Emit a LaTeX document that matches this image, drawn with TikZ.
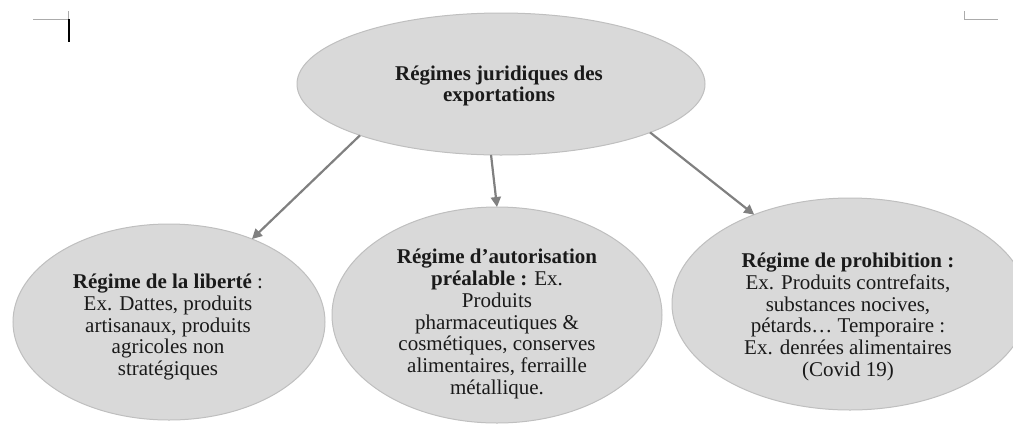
\documentclass[tikz,border=0pt]{standalone}
\usepackage{fontspec}
\setmainfont{Liberation Serif}
\usetikzlibrary{shapes.geometric,arrows.meta}
\definecolor{ellfill}{HTML}{D9D9D9}
\definecolor{elldraw}{HTML}{BFBFBF}
\definecolor{arrowgray}{HTML}{808080}
\definecolor{markgray}{HTML}{ABABAB}
\definecolor{txt}{HTML}{1A1A1A}
\tikzset{
  bubble/.style={ellipse, fill=ellfill, draw=elldraw, line width=1pt, inner sep=0pt, outer sep=0pt},
  bubbletext/.style={align=center, text=txt, inner sep=0pt, font=\fontsize{21}{21.7}\selectfont},
  link/.style={draw=arrowgray, line width=2.2pt, -{Triangle[width=10pt,length=10pt]}},
  cornermark/.style={draw=markgray, line width=0.9pt},
}
\begin{document}
\begin{tikzpicture}[x=1pt,y=-1pt]
\useasboundingbox (0,0) rectangle (1013,424);
% page corner marks and cursor
\draw[cornermark] (33,19) -- (68,19) -- (68,11);
\draw[black, line width=1.3pt] (69,19) -- (69,42);
\draw[cornermark] (964,11) -- (964,19) -- (998,19);
% ellipses
\node[bubble, minimum width=408pt, minimum height=142pt] (top) at (501,84) {};
\node[bubble, minimum width=312pt, minimum height=196pt] (lib) at (169,322) {};
\node[bubble, minimum width=330pt, minimum height=216pt] (aut) at (497,315) {};
\node[bubble, minimum width=356pt, minimum height=212pt] (pro) at (850,304) {};
% texts
\node[bubbletext] (toptxt) at (499,86) {\textbf{Régimes juridiques des}\\\textbf{exportations}};
\node[bubbletext] (libtxt) at (168,327) {\textbf{Régime de la liberté} :\\Ex. Dattes, produits\\artisanaux, produits\\agricoles non\\stratégiques};
\node[bubbletext] (auttxt) at (497,324) {\textbf{Régime d’autorisation}\\\textbf{préalable :} Ex.\\Produits\\pharmaceutiques \&\\cosmétiques, conserves\\alimentaires, ferraille\\métallique.};
\node[bubbletext] (protxt) at (848,317) {\textbf{Régime de prohibition :}\\Ex. Produits contrefaits,\\substances nocives,\\pétards… Temporaire :\\Ex. denrées alimentaires\\(Covid 19)};
% arrows
\draw[link] (top.200.6) -- (lib.45);
\draw[link] (top.262.8) -- (aut.90);
\draw[link] (top.-18.2) -- (pro.137);
\end{tikzpicture}
\end{document}
